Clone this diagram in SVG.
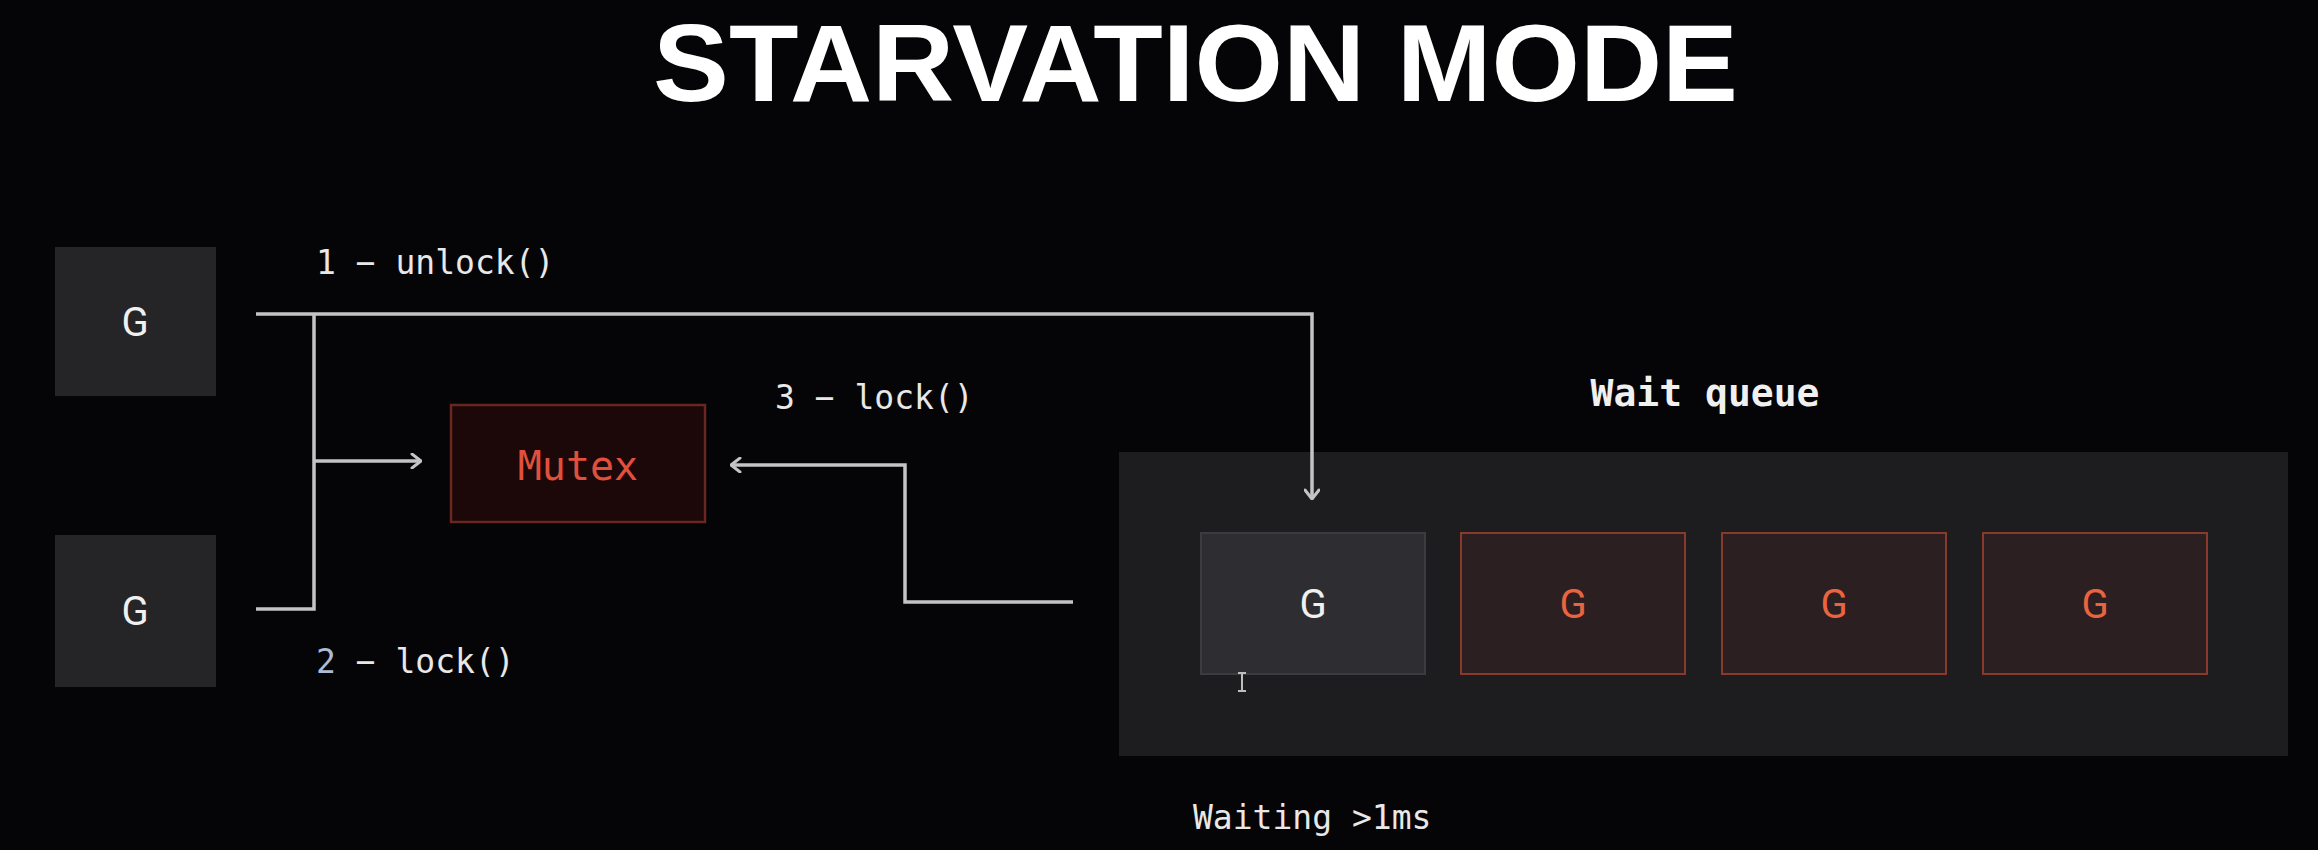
<svg xmlns="http://www.w3.org/2000/svg" width="2318" height="850" viewBox="0 0 2318 850">
<defs>
<style>
.bg{fill:#050507}
.g{fill:#252527}
.lbl{font-family:"DejaVu Sans Mono","Liberation Mono",monospace;font-size:33px;fill:#e8e8e8}
.gt{font-family:Roboto,"Noto Sans",sans-serif;font-size:40px;fill:#f0f0f0;text-anchor:middle;dominant-baseline:central}
.red{fill:#2b1f21;stroke:#8a3a2c;stroke-width:2}
.redt{fill:#ea6440}
.conn{fill:none;stroke:#c4c4c4;stroke-width:3.5}
</style>
<marker id="arr" viewBox="0 0 12 16" refX="11" refY="8" markerWidth="12" markerHeight="16" markerUnits="userSpaceOnUse" orient="auto">
<path d="M2,1 L11,8 L2,15" fill="none" stroke="#c4c4c4" stroke-width="3" stroke-linecap="round" stroke-linejoin="round"/>
</marker>
</defs>
<rect class="bg" x="0" y="0" width="2318" height="850"/>
<text x="653" y="101" font-family="'Liberation Sans',Arial,sans-serif" font-weight="700" font-size="110" fill="#ffffff" textLength="1085" lengthAdjust="spacingAndGlyphs">STARVATION MODE</text>

<g id="g-top">
<rect class="g" x="55" y="247" width="161" height="149"/>
<text class="gt" x="135" y="322">G</text>
</g>
<g id="g-bottom">
<rect class="g" x="55" y="535" width="161" height="152"/>
<text class="gt" x="135" y="611">G</text>
</g>
<g id="mutex">
<rect x="451" y="405" width="254" height="117" fill="#1c0808" stroke="#6a2620" stroke-width="2.5"/>
<text x="578" y="466" font-family="'DejaVu Sans Mono','Liberation Mono',monospace" font-size="40" fill="#e0503c" text-anchor="middle" dominant-baseline="central">Mutex</text>
</g>
<g id="wait-queue">
<rect x="1119" y="452" width="1169" height="304" fill="#1d1d1f"/>
<text x="1705" y="393" font-family="'DejaVu Sans Mono','Liberation Mono',monospace" font-weight="700" font-size="38" fill="#f0f0f0" text-anchor="middle" dominant-baseline="central">Wait queue</text>
<g id="q1">
<rect x="1201" y="533" width="224" height="141" fill="#2e2e32" stroke="#3c3c40" stroke-width="2"/>
<text class="gt" x="1313" y="604">G</text>
</g>
<g id="q2">
<rect class="red" x="1461" y="533" width="224" height="141"/>
<text class="gt redt" x="1573" y="604">G</text>
</g>
<g id="q3">
<rect class="red" x="1722" y="533" width="224" height="141"/>
<text class="gt redt" x="1834" y="604">G</text>
</g>
<g id="q4">
<rect class="red" x="1983" y="533" width="224" height="141"/>
<text class="gt redt" x="2095" y="604">G</text>
</g>
<path d="M1238,673 h8 M1242,673 v18 M1238,691 h8" stroke="#bdbdbd" stroke-width="2" fill="none"/>
</g>

<g id="connectors">
<path class="conn" d="M256,314 H1312 V499" marker-end="url(#arr)"/>
<path class="conn" d="M314,314 V609 H256"/>
<path class="conn" d="M314,461 H421" marker-end="url(#arr)"/>
<path class="conn" d="M1073,602 H905 V465 H731" marker-end="url(#arr)"/>
</g>

<g id="labels">
<text class="lbl" x="316" y="274">1 − unlock()</text>
<text class="lbl" x="775" y="409">3 − lock()</text>
<text class="lbl" x="316" y="673"><tspan fill="#aebbd6">2</tspan> − lock()</text>
<text class="lbl" x="1193" y="829">Waiting &gt;1ms</text>
</g>
</svg>
